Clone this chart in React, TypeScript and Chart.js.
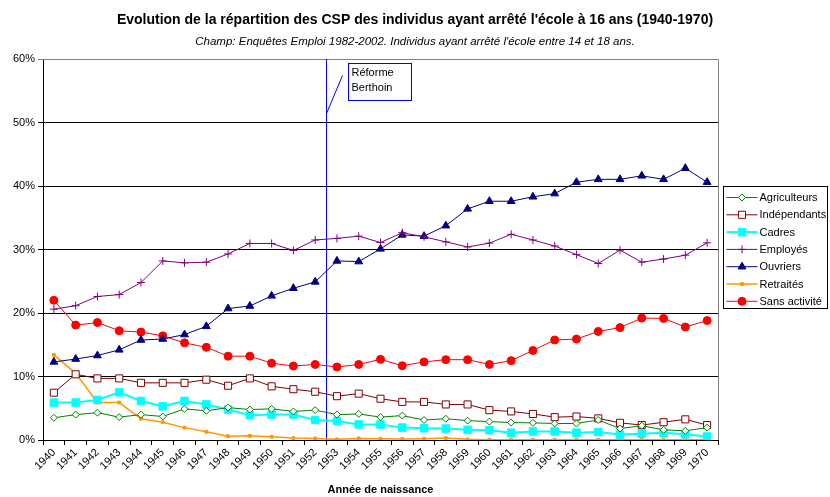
import React, { useEffect, useRef } from "react";
import { Chart, registerables } from "chart.js";
import { drawPoint } from "chart.js/helpers";

Chart.register(...registerables);

const YEARS = [
  "1940", "1941", "1942", "1943", "1944", "1945", "1946", "1947", "1948", "1949",
  "1950", "1951", "1952", "1953", "1954", "1955", "1956", "1957", "1958", "1959",
  "1960", "1961", "1962", "1963", "1964", "1965", "1966", "1967", "1968", "1969", "1970",
];
const REFORM_YEAR = "1953";
const REFORM_LABEL = ["Réforme", "Berthoin"];

const agriculteurs = [3.5, 4.0, 4.3, 3.6, 4.0, 3.7, 4.9, 4.6, 5.1, 4.8, 4.9, 4.5, 4.7, 4.0, 4.1, 3.6, 3.85, 3.15, 3.35, 3.05, 2.9, 2.75, 2.7, 2.6, 2.6, 3.15, 1.8, 2.25, 1.6, 1.45, 1.95];
const independants = [7.45, 10.35, 9.7, 9.7, 9.0, 9.0, 9.0, 9.5, 8.55, 9.7, 8.45, 8.0, 7.6, 6.9, 7.3, 6.5, 6.0, 6.0, 5.6, 5.6, 4.7, 4.5, 4.1, 3.6, 3.7, 3.4, 2.7, 2.35, 2.8, 3.25, 2.35];
const cadres = [5.9, 5.9, 6.3, 7.5, 6.15, 5.3, 6.15, 5.6, 4.8, 3.9, 4.0, 4.0, 3.15, 3.0, 2.45, 2.45, 1.95, 1.85, 1.8, 1.6, 1.55, 1.15, 1.35, 1.35, 1.15, 1.25, 0.85, 1.0, 1.15, 0.9, 0.55];
const employes = [20.6, 21.15, 22.6, 22.9, 24.8, 28.2, 27.9, 28.0, 29.3, 30.95, 30.95, 29.85, 31.5, 31.75, 32.1, 31.1, 32.65, 32.0, 31.2, 30.4, 31.0, 32.4, 31.5, 30.55, 29.2, 27.8, 29.9, 28.0, 28.5, 29.1, 31.05];
const ouvriers = [12.3, 12.75, 13.3, 14.2, 15.75, 15.9, 16.6, 17.9, 20.7, 21.1, 22.7, 23.9, 24.9, 28.2, 28.1, 30.1, 32.3, 32.1, 33.75, 36.4, 37.6, 37.6, 38.3, 38.8, 40.6, 41.05, 41.05, 41.6, 41.05, 42.8, 40.6];
const retraites = [13.4, 10.5, 5.9, 5.9, 3.35, 2.8, 1.95, 1.3, 0.6, 0.65, 0.5, 0.3, 0.25, 0.1, 0.25, 0.2, 0.15, 0.2, 0.3, 0.1, 0.05, 0.05, 0.05, 0.05, 0.05, 0.05, 0.05, 0.05, 0.05, 0.05, 0.05];
const sansActivite = [22.0, 18.1, 18.5, 17.2, 17.0, 16.4, 15.3, 14.6, 13.2, 13.2, 12.1, 11.65, 11.9, 11.5, 11.9, 12.7, 11.7, 12.3, 12.65, 12.65, 11.9, 12.5, 14.1, 15.75, 15.9, 17.1, 17.7, 19.2, 19.15, 17.8, 18.8];

const Y_TICKS = [0, 10, 20, 30, 40, 50, 60];

const TITLE = "Evolution de la répartition des CSP des individus ayant arrêté l'école à 16 ans (1940-1970)";
const SUBTITLE = "Champ: Enquêtes Emploi 1982-2002. Individus ayant arrêté l'école entre 14 et 18 ans.";
const X_TITLE = "Année de naissance";

const FONT = "Arial, 'Liberation Sans', sans-serif";

const decorPlugin = {
  id: "decor",
  beforeDatasetsDraw(chart: any) {
    const { ctx, chartArea: a } = chart;
    ctx.save();
    ctx.strokeStyle = "#808080";
    ctx.lineWidth = 1;
    ctx.beginPath();
    ctx.moveTo(a.left, Math.round(a.top) + 0.5);
    ctx.lineTo(Math.round(a.right) + 0.5, Math.round(a.top) + 0.5);
    ctx.lineTo(Math.round(a.right) + 0.5, a.bottom);
    ctx.stroke();
    const xs = chart.scales.x;
    const idx = YEARS.indexOf(REFORM_YEAR);
    const xl = Math.round((xs.getPixelForValue(idx - 1) + xs.getPixelForValue(idx)) / 2) + 0.5;
    ctx.strokeStyle = "#0000FF";
    ctx.beginPath();
    ctx.moveTo(xl, a.top);
    ctx.lineTo(xl, a.bottom);
    ctx.stroke();
    ctx.restore();
  },
  afterDraw(chart: any) {
    const { ctx, chartArea: a } = chart;
    const xs = chart.scales.x;
    const idx = YEARS.indexOf(REFORM_YEAR);
    const xl = Math.round((xs.getPixelForValue(idx - 1) + xs.getPixelForValue(idx)) / 2) + 0.5;
    ctx.save();
    // annotation
    const bl = Math.round(xl + 21) + 0.5;
    const bt = Math.round(a.top + 4) + 0.5;
    const bw = 63;
    const bh = 37;
    ctx.strokeStyle = "#0000FF";
    ctx.lineWidth = 1;
    ctx.beginPath();
    ctx.moveTo(bl - 6, bt + 12);
    ctx.lineTo(xl, bt + 50);
    ctx.stroke();
    ctx.fillStyle = "#fff";
    ctx.fillRect(bl, bt, bw, bh);
    ctx.strokeRect(bl, bt, bw, bh);
    ctx.fillStyle = "#000";
    ctx.font = `11px ${FONT}`;
    ctx.textBaseline = "middle";
    ctx.textAlign = "left";
    REFORM_LABEL.forEach((t, i) => ctx.fillText(t, bl + 3, bt + 9 + i * 15));

    // legend
    const lx = Math.round(a.right + 5) + 0.5;
    const ly = Math.round(a.top + 127) + 0.5;
    const lw = 104;
    const lh = 122;
    ctx.fillStyle = "#fff";
    ctx.fillRect(lx, ly, lw, lh);
    ctx.strokeStyle = "#000";
    ctx.strokeRect(lx, ly, lw, lh);
    chart.data.datasets.forEach((ds: any, i: number) => {
      const y = ly + 11 + i * 17.3;
      ctx.strokeStyle = ds.borderColor;
      ctx.lineWidth = ds.borderWidth;
      ctx.beginPath();
      ctx.moveTo(lx + 3, y);
      ctx.lineTo(lx + 34, y);
      ctx.stroke();
      ctx.fillStyle = ds.pointBackgroundColor;
      ctx.strokeStyle = ds.pointBorderColor;
      ctx.lineWidth = ds.pointBorderWidth;
      drawPoint(ctx, { pointStyle: ds.pointStyle, radius: ds.pointRadius, rotation: 0, borderWidth: ds.pointBorderWidth } as any, lx + 18.5, y);
      ctx.fillStyle = "#000";
      ctx.font = `11px ${FONT}`;
      ctx.textBaseline = "middle";
      ctx.textAlign = "left";
      ctx.fillText(ds.label, lx + 36, y + 0.5);
    });
    ctx.restore();
  },
};

function mk(label: string, data: number[], color: string, style: string, radius: number, fill: string, lineWidth = 1, pbw = 1) {
  return {
    label,
    data,
    borderColor: color,
    backgroundColor: color,
    borderWidth: lineWidth,
    pointStyle: style,
    pointRadius: radius,
    pointHoverRadius: radius,
    pointBackgroundColor: fill,
    pointBorderColor: color,
    pointBorderWidth: pbw,
    tension: 0,
    fill: false,
  };
}

export default function App() {
  const ref = useRef<HTMLCanvasElement | null>(null);
  useEffect(() => {
    if (!ref.current) return;
    const chart = new Chart(ref.current, {
      type: "line",
      data: {
        labels: YEARS,
        datasets: [
          mk("Agriculteurs", agriculteurs, "#008000", "rectRot", 3.5, "#ffffff"),
          mk("Indépendants", independants, "#800000", "rect", 5, "#ffffff"),
          mk("Cadres", cadres, "#00FFFF", "rect", 5.3, "#00FFFF", 2),
          mk("Employés", employes, "#800080", "cross", 4, "#800080"),
          mk("Ouvriers", ouvriers, "#000080", "triangle", 4.5, "#000080"),
          mk("Retraités", retraites, "#FF9900", "rect", 2, "#FF9900", 1.5),
          mk("Sans activité", sansActivite, "#FF0000", "circle", 4, "#FF0000"),
        ] as any,
      },
      options: {
        responsive: false,
        animation: false,
        layout: { padding: 0 },
        plugins: {
          legend: { display: false },
          tooltip: { enabled: false },
          title: {
            display: true,
            text: TITLE,
            color: "#000",
            font: { family: FONT, size: 14, weight: "bold", lineHeight: 1.2 },
            padding: { top: 11.4, bottom: 6.1 },
          },
          subtitle: {
            display: true,
            text: SUBTITLE,
            color: "#000",
            font: { family: FONT, size: 11.5, style: "italic", lineHeight: 1.2 },
            padding: { top: 1, bottom: 9.9 },
          },
        },
        scales: {
          x: {
            type: "category",
            offset: true,
            grid: { display: true, offset: true, drawOnChartArea: false, drawTicks: true, tickLength: 5, color: "#000" },
            border: { display: true, color: "#000", width: 1 },
            ticks: { autoSkip: false, maxRotation: 45, minRotation: 45, color: "#000", font: { family: FONT, size: 11 }, padding: 1 },
            title: { display: true, text: X_TITLE, color: "#000", font: { family: FONT, size: 11, weight: "bold", lineHeight: 1.2 }, padding: { top: 0, bottom: 0 } },
            afterFit: (s: any) => { s.height = 57; },
          },
          y: {
            type: "linear",
            min: 0,
            max: 60,
            afterBuildTicks: (s: any) => { s.ticks = Y_TICKS.map((v) => ({ value: v })); },
            grid: {
              color: (c: any) => (c.tick && c.tick.value === 60 ? "#808080" : "#000"),
              tickLength: 5,
              drawTicks: true,
            },
            border: { display: true, color: "#000", width: 1 },
            ticks: { color: "#000", font: { family: FONT, size: 11 }, padding: 3, callback: (v: any) => `${v}%` },
            afterFit: (s: any) => { s.width = 43; },
          },
          yr: {
            type: "linear",
            position: "right",
            display: true,
            grid: { display: false },
            border: { display: false },
            ticks: { display: false },
            afterFit: (s: any) => { s.width = 112; },
          },
        },
      } as any,
      plugins: [decorPlugin],
    });
    return () => chart.destroy();
  }, []);
  return (
    <div style={{ position: "absolute", left: 0, top: 0, width: 830, height: 497, background: "#fff" }}>
      <canvas ref={ref} width={830} height={497} style={{ width: 830, height: 497, display: "block" }} />
    </div>
  );
}
